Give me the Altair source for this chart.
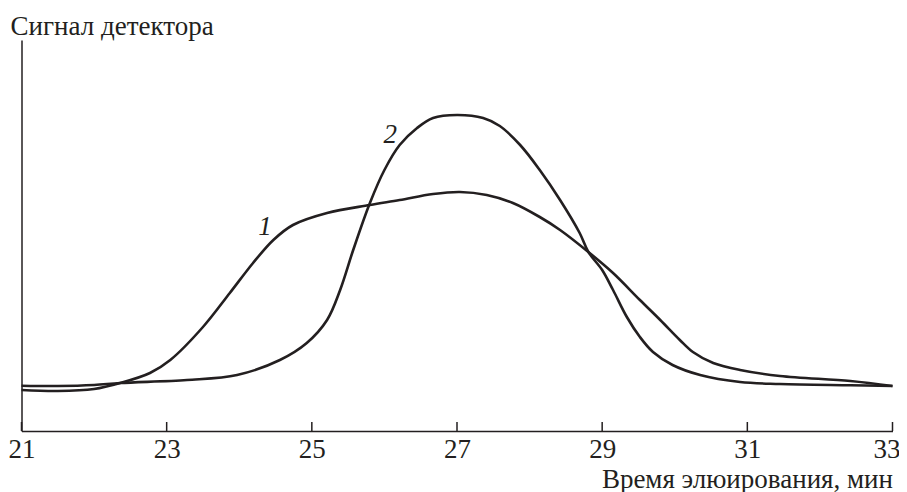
import altair as alt
import pandas as pd

# Curve 1 (broad peak with shoulder)
x1 = [21.0, 21.5, 22.0, 22.36, 22.77, 23.05, 23.5, 23.87, 24.19, 24.47, 24.74, 25.21,
      25.8, 26.21, 26.67, 27.04, 27.41, 27.77, 28.14, 28.42, 28.81, 29.15, 29.52, 29.8,
      30.07, 30.25, 30.53, 30.9, 31.45, 32.42, 33.0]
y1 = [41, 40, 42, 48, 58, 71, 104, 138, 168, 191, 206, 218,
      226, 231, 237, 239, 236, 228, 214, 201, 179, 158, 131, 111,
      91, 79, 68, 61, 55, 50, 45]

# Curve 2 (tall narrow peak)
x2 = [21.0, 21.5, 22.0, 22.36, 23.28, 23.97, 24.56, 24.93, 25.21, 25.39, 25.57, 25.8,
      26.0, 26.21, 26.45, 26.67, 27.0, 27.36, 27.59, 27.87, 28.14, 28.42, 28.69, 28.81,
      29.0, 29.15, 29.34, 29.52, 29.7, 29.97, 30.35, 30.9, 31.45, 32.42, 33.0]
y2 = [45.3, 45, 46, 48, 51, 56, 71, 88, 111, 141, 181, 228,
      261, 286, 303, 313, 316, 313, 305, 286, 261, 231, 198, 179,
      161, 141, 114, 94, 79, 66, 56, 49, 47, 45.7, 45]

tick_values = [21, 23, 25, 27, 29, 31, 33]

label_text = ["1", "2"]
label_x = [24.355, 26.08]
label_y = [204, 296]

INK = "#231f20"
FONT = "Liberation Serif"
W, H = 871, 391

curves = pd.concat([
    pd.DataFrame({"t": x1, "s": y1, "curve": "1"}),
    pd.DataFrame({"t": x2, "s": y2, "curve": "2"}),
])
ticks = pd.DataFrame({"t": tick_values})
labels = pd.DataFrame({"t": label_x, "s": label_y, "txt": label_text})

xscale = alt.Scale(domain=[21, 33], nice=False, zero=False)
yscale = alt.Scale(domain=[0, 391], nice=False, zero=True)

xaxis = alt.Axis(
    values=tick_values, format="d", ticks=False, grid=False,
    domainColor=INK, domainWidth=1.5,
    labelFont=FONT, labelFontSize=27, labelColor=INK,
    labelBaseline="alphabetic", labelPadding=26, labelFlush=False,
    labelOffset={"condition": {"test": "datum.value == 33", "value": -6}, "value": 0},
    title="Время элюирования, мин", titleFont=FONT, titleFontSize=27,
    titleFontWeight="normal", titleColor=INK,
    titleAnchor="end", titleAlign="right", titleBaseline="alphabetic",
    titleX=W, titleY=56,
)
yaxis = alt.Axis(
    labels=False, ticks=False, grid=False,
    domainColor=INK, domainWidth=1.5,
    title="Сигнал детектора", titleFont=FONT, titleFontSize=27,
    titleFontWeight="normal", titleColor=INK, titleAngle=0,
    titleAlign="left", titleBaseline="alphabetic",
    titleX=-11.5, titleY=-6,
)

lines = alt.Chart(curves).mark_line(
    color=INK, strokeWidth=2.6, interpolate="catmull-rom"
).encode(
    x=alt.X("t:Q", scale=xscale, axis=xaxis),
    y=alt.Y("s:Q", scale=yscale, axis=yaxis),
    detail="curve:N",
)

tick_marks = alt.Chart(ticks).mark_rule(color=INK, strokeWidth=1.5).encode(
    x=alt.X("t:Q", scale=xscale),
    y=alt.value(H - 9),
    y2=alt.value(H),
)

texts = alt.Chart(labels).mark_text(
    font=FONT, fontSize=27, fontStyle="italic", color=INK,
    align="center", baseline="middle"
).encode(
    x=alt.X("t:Q", scale=xscale),
    y=alt.Y("s:Q", scale=yscale),
    text="txt:N",
)

chart = alt.layer(lines, tick_marks, texts).properties(
    width=W, height=H,
    autosize=alt.AutoSizeParams(type="none"),
    padding={"left": 13.5, "top": 32, "right": 6.5, "bottom": 61},
    background="white",
).configure_view(stroke=None)

chart.save("out.html", embed_options={"renderer": "svg", "actions": False})
